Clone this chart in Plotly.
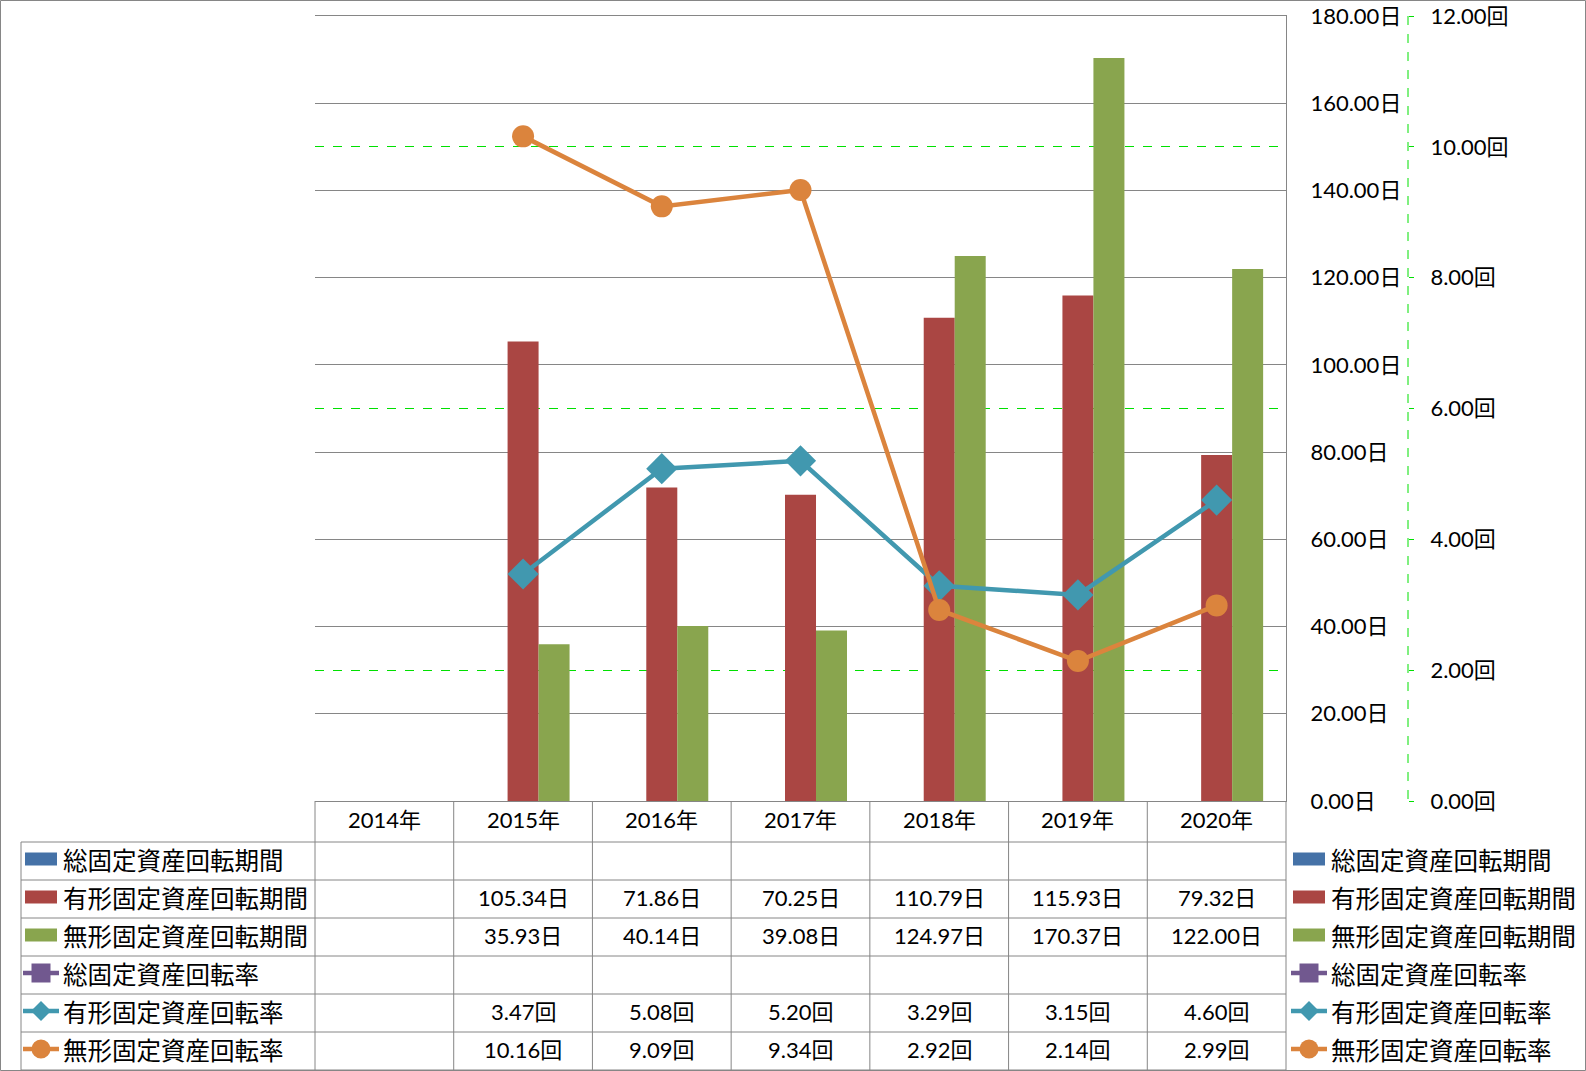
import plotly.graph_objects as go

# ---------------- data ----------------
years = ["2014年", "2015年", "2016年", "2017年", "2018年", "2019年", "2020年"]
total_period = [None, None, None, None, None, None, None]
tangible_period = [None, 105.34, 71.86, 70.25, 110.79, 115.93, 79.32]
intangible_period = [None, 35.93, 40.14, 39.08, 124.97, 170.37, 122.00]
total_rate = [None, None, None, None, None, None, None]
tangible_rate = [None, 3.47, 5.08, 5.20, 3.29, 3.15, 4.60]
intangible_rate = [None, 10.16, 9.09, 9.34, 2.92, 2.14, 2.99]

names = ["総固定資産回転期間", "有形固定資産回転期間", "無形固定資産回転期間",
         "総固定資産回転率", "有形固定資産回転率", "無形固定資産回転率"]
units = ["日", "日", "日", "回", "回", "回"]
series = [total_period, tangible_period, intangible_period,
          total_rate, tangible_rate, intangible_rate]
kinds = ["bar", "bar", "bar", "line", "line", "line"]
colors = ["#4572A7", "#AA4643", "#89A54E", "#71588F", "#4198AF", "#DB843D"]
symbols = [None, None, None, "square", "diamond", "circle"]
rate_minor_grid = [2, 6, 10]

# ---------------- geometry (pixels) ----------------
W, H = 1586, 1071
L, RA, R2, T, B = 315, 1286, 1408, 16, 801
GRAY = "#868686"
GREEN = "#00E000"
NUMFONT = "Lato, 'Noto Sans CJK JP', sans-serif"
JPFONT = "'Noto Sans CJK JP', sans-serif"


def px(x):
    return (x - L) / (R2 - L)


def py(y):
    return (B - y) / (B - T)


fig = go.Figure()

bar_offsets = [-0.335, -0.1117, 0.1117]
bi = 0
for name, vals, kind, col, sym in zip(names, series, kinds, colors, symbols):
    if kind == "bar":
        fig.add_trace(go.Bar(x=years, y=vals, name=name, marker_color=col,
                             marker_line_width=0, width=0.2235,
                             offset=bar_offsets[bi], yaxis="y", showlegend=False))
        bi += 1
    else:
        size = {"square": 18, "diamond": 24, "circle": 22}[sym]
        fig.add_trace(go.Scatter(x=years, y=vals, name=name, mode="lines+markers",
                                 line=dict(color=col, width=4.5),
                                 marker=dict(symbol=sym, size=size, color=col),
                                 yaxis="y2", showlegend=False))

shapes = []
annotations = []
line_style = dict(color=GRAY, width=1)

# outer border
shapes.append(dict(type="rect", xref="paper", yref="paper", x0=px(0.5), x1=px(1585.5),
                   y0=py(0.5), y1=py(1070.5), line=line_style, layer="below"))

# secondary axis dashed line
shapes.append(dict(type="line", xref="paper", yref="paper", x0=1, x1=1, y0=py(T), y1=py(B),
                   line=dict(color=GREEN, width=1, dash="dash")))

# table grid
colw = (RA - L) / 7
for yy in [842, 880, 918, 956, 994, 1032, 1070]:
    shapes.append(dict(type="line", xref="paper", yref="paper", x0=px(21), x1=px(RA),
                       y0=py(yy), y1=py(yy), line=line_style))
shapes.append(dict(type="line", xref="paper", yref="paper", x0=px(21), x1=px(21),
                   y0=py(842), y1=py(1070), line=line_style))
for k in range(8):
    xx = L + k * colw
    shapes.append(dict(type="line", xref="paper", yref="paper", x0=px(xx), x1=px(xx),
                       y0=py(B), y1=py(1070), line=line_style))

# header years
for yr in years:
    annotations.append(dict(x=yr, xref="x", y=py(819.5), yref="paper", text=yr,
                            xanchor="center", yanchor="middle",
                            showarrow=False, font=dict(family=NUMFONT, size=22, color="#000")))

# rows
row_cy = [859 + 38 * i for i in range(6)]


def legend_symbol(cx_left, cx_right, cy, kind, col, sym):
    if kind == "bar":
        shapes.append(dict(type="rect", xref="paper", yref="paper", x0=px(cx_left),
                           x1=px(cx_right), y0=py(cy - 6.5), y1=py(cy + 6.5),
                           fillcolor=col, line=dict(width=0)))
    else:
        shapes.append(dict(type="line", xref="paper", yref="paper", x0=px(cx_left - 2),
                           x1=px(cx_right + 2), y0=py(cy), y1=py(cy),
                           line=dict(color=col, width=4.5)))
        cx = (cx_left + cx_right) / 2
        r = 9.5
        if sym == "circle":
            shapes.append(dict(type="circle", xref="paper", yref="paper",
                               x0=px(cx - r), x1=px(cx + r), y0=py(cy - r), y1=py(cy + r),
                               fillcolor=col, line=dict(width=0)))
        elif sym == "diamond":
            path = "M {} {} L {} {} L {} {} L {} {} Z".format(
                px(cx - r - 0.5), py(cy), px(cx), py(cy - r - 0.5),
                px(cx + r + 0.5), py(cy), px(cx), py(cy + r + 0.5))
            shapes.append(dict(type="path", xref="paper", yref="paper", path=path,
                               fillcolor=col, line=dict(width=0)))
        else:
            shapes.append(dict(type="rect", xref="paper", yref="paper",
                               x0=px(cx - r), x1=px(cx + r), y0=py(cy - r), y1=py(cy + r),
                               fillcolor=col, line=dict(width=0)))


for i, (name, vals, kind, col, sym, unit) in enumerate(
        zip(names, series, kinds, colors, symbols, units)):
    cy = row_cy[i]
    # left table legend
    legend_symbol(25, 57, cy, kind, col, sym)
    annotations.append(dict(x=px(61), xref="paper", y=py(cy), yref="paper", text=name,
                            xanchor="left", yanchor="middle", showarrow=False,
                            font=dict(family=JPFONT, size=24.5, color="#000")))
    # right legend
    legend_symbol(1293, 1325, cy, kind, col, sym)
    annotations.append(dict(x=px(1329), xref="paper", y=py(cy), yref="paper", text=name,
                            xanchor="left", yanchor="middle", showarrow=False,
                            font=dict(family=JPFONT, size=24.5, color="#000")))
    # values
    for yr, v in zip(years, vals):
        if v is None:
            continue
        annotations.append(dict(x=yr, xref="x", y=py(cy), yref="paper",
                                text=f"{v:.2f}{unit}", showarrow=False,
                                xanchor="center", yanchor="middle",
                                font=dict(family=NUMFONT, size=22, color="#000")))

fig.update_layout(
    width=W, height=H,
    margin=dict(l=L, r=W - R2, t=T, b=H - B, pad=0, autoexpand=False),
    paper_bgcolor="white", plot_bgcolor="white",
    showlegend=False,
    bargap=0.33,
    xaxis=dict(type="category", categoryorder="array", categoryarray=years,
               domain=[0, (RA - L) / (R2 - L)], range=[-0.5, 6.5], automargin=False,
               showticklabels=False, ticks="", showgrid=False, zeroline=False,
               showline=True, mirror=True, linecolor=GRAY, linewidth=1),
    yaxis=dict(range=[0, 180], dtick=20, tick0=0, side="right", anchor="x",
               automargin=False,
               tickformat=".2f", ticksuffix="日", ticks="", ticklabelstandoff=19,
               showline=True, linecolor=GRAY, linewidth=1,
               showgrid=True, gridcolor=GRAY, gridwidth=1, zeroline=False,
               tickfont=dict(family=NUMFONT, size=22, color="#000")),
    yaxis2=dict(range=[0, 12], dtick=2, tick0=0, side="right", overlaying="y",
                anchor="free", position=1, automargin=False,
                tickformat=".2f", ticksuffix="回", ticks="outside", ticklen=5,
                tickcolor=GREEN, ticklabelstandoff=12,
                showline=False, showgrid=False, zeroline=False,
                minor=dict(tickvals=rate_minor_grid, showgrid=True, gridcolor=GREEN,
                           griddash="dash", gridwidth=1, ticks=""),
                tickfont=dict(family=NUMFONT, size=22, color="#000")),
    shapes=shapes,
    annotations=annotations,
)

fig.write_html("out.html", config={"displayModeBar": False},
               post_script="document.body.style.margin='0';")
